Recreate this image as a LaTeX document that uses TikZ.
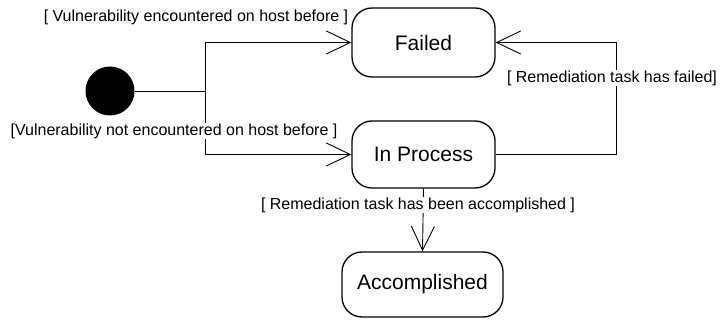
\documentclass[tikz,border=0pt]{standalone}
\usepackage{fontspec}
\setmainfont{Liberation Sans}
\usetikzlibrary{arrows.meta}
\begin{document}
\begin{tikzpicture}[x=1pt,y=-1pt,
  state/.style={draw, line width=1.3pt, rounded corners=20pt, font=\fontsize{21}{24}\selectfont},
  guard/.style={fill=white, inner sep=1pt, font=\fontsize{16}{18}\selectfont},
  flow/.style={line width=0.9pt, -{Straight Barb[length=24pt,width=23pt,line width=0.9pt]}},
  plain/.style={line width=0.9pt}]
  \useasboundingbox (0,0) rectangle (723,320);

  % initial pseudo-state and states
  \node[circle, fill=black, minimum size=49pt, inner sep=0pt] (init) at (110,91) {};
  \node[state, minimum width=143pt, minimum height=69pt] (failed) at (423.5,42.5) {Failed};
  \node[state, minimum width=143pt, minimum height=67pt] (inproc) at (423.5,154.5) {In Process};
  \node[state, minimum width=161pt, minimum height=65pt] (acc) at (422.5,284.5) {Accomplished};

  % branching point and return path
  \coordinate (j) at (205,91);
  \coordinate (rt) at (616,42.5);

  \draw[plain] (init.east) -- (j);
  \draw[flow] (j) |- (failed.west);
  \draw[flow] (j) |- (inproc.west);
  \draw[flow] (inproc.east) -| (rt) -- (failed.east);
  \draw[flow] (inproc.south) -- (acc.north);

  % guard conditions
  \node[guard] (g1) at (196,17) {[ Vulnerability encountered on host before ]};
  \node[guard] (g2) at (174,131) {[Vulnerability not encountered on host before ]};
  \node[guard] (g3) at (612,78) {[ Remediation task has failed]};
  \node[guard] (g4) at (418,205) {[ Remediation task has been accomplished ]};
\end{tikzpicture}
\end{document}
